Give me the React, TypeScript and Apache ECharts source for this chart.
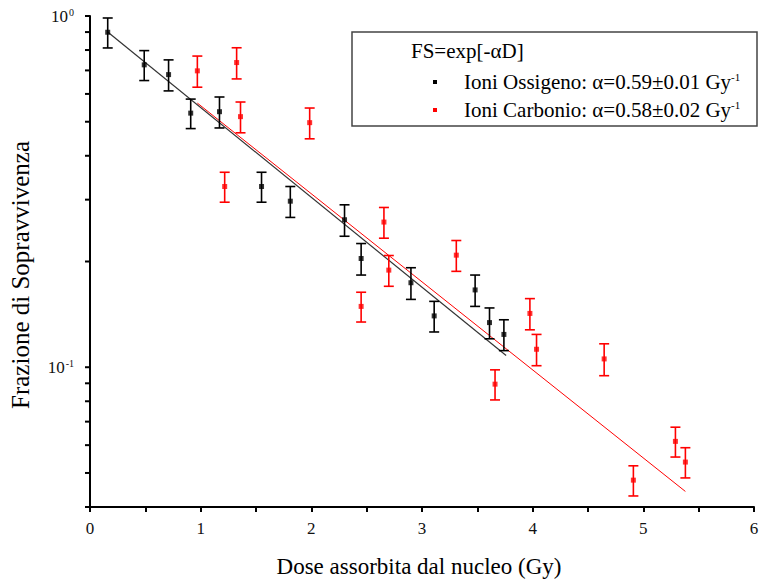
import React, { useEffect, useRef } from "react";
import * as echarts from "echarts";

const FONT = '"Liberation Serif", "Times New Roman", serif';

// Ioni Ossigeno (black)
const oxygenDose = [0.16, 0.49, 0.71, 0.91, 1.17, 1.55, 1.81, 2.3, 2.45, 2.9, 3.11, 3.48, 3.61, 3.74];
const oxygenSF = [0.899, 0.726, 0.681, 0.529, 0.534, 0.327, 0.297, 0.263, 0.204, 0.174, 0.14, 0.166, 0.134, 0.124];
const oxygenErr = [0.088, 0.071, 0.069, 0.051, 0.054, 0.032, 0.03, 0.027, 0.021, 0.018, 0.014, 0.017, 0.0135, 0.0125];

// Ioni Carbonio (red)
const carbonDose = [0.97, 1.217, 1.325, 1.36, 1.985, 2.45, 2.656, 2.7, 3.31, 3.66, 3.975, 4.035, 4.646, 4.91, 5.29, 5.38];
const carbonSF = [0.698, 0.327, 0.737, 0.517, 0.497, 0.149, 0.259, 0.189, 0.2085, 0.0895, 0.1423, 0.1125, 0.1056, 0.0477, 0.0615, 0.0537];
const carbonErr = [0.071, 0.032, 0.075, 0.052, 0.05, 0.0145, 0.026, 0.019, 0.021, 0.0088, 0.0145, 0.0115, 0.011, 0.0047, 0.006, 0.0053];

// Fit lines FS = exp(-αD), endpoints
const oxygenFitDose = [0.16, 3.76];
const oxygenFitSF = [0.9, 0.108];
const carbonFitDose = [0.97, 5.38];
const carbonFitSF = [0.565, 0.0443];

// Axes
const X_MIN = 0;
const X_MAX = 6;
const Y_MIN = 0.04;
const Y_MAX = 1;
const yTickValues = [0.04, 0.05, 0.06, 0.07, 0.08, 0.09, 0.1, 0.2, 0.3, 0.4, 0.5, 0.6, 0.7, 0.8, 0.9, 1];

const BLACK = "#000000";
const RED = "#ff0000";

function errorSeries(name: string, xs: number[], ys: number[], es: number[], color: string) {
  return {
    type: "custom",
    name: name + " err",
    clip: false,
    z: 3,
    encode: { x: 0, y: 1 },
    data: xs.map((x, i) => [x, ys[i], es[i]]),
    renderItem: (params: any, api: any) => {
      const x = api.value(0);
      const y = api.value(1);
      const e = api.value(2);
      const top = api.coord([x, y + e]);
      const bot = api.coord([x, y - e]);
      const hw = 5;
      const st = { stroke: color, lineWidth: 1.6 };
      return {
        type: "group",
        children: [
          { type: "line", shape: { x1: top[0], y1: top[1], x2: bot[0], y2: bot[1] }, style: st },
          { type: "line", shape: { x1: top[0] - hw, y1: top[1], x2: top[0] + hw, y2: top[1] }, style: st },
          { type: "line", shape: { x1: bot[0] - hw, y1: bot[1], x2: bot[0] + hw, y2: bot[1] }, style: st },
        ],
      };
    },
  };
}

export default function App() {
  const ref = useRef<HTMLDivElement>(null);
  useEffect(() => {
    if (!ref.current) return;
    const chart = echarts.init(ref.current, null, { renderer: "svg" });
    const option: any = {
      animation: false,
      backgroundColor: "#ffffff",
      grid: { left: 90, right: 12, top: 16, bottom: 78, containLabel: false },
      xAxis: {
        type: "value",
        min: X_MIN,
        max: X_MAX,
        interval: 1,
        name: "Dose assorbita dal nucleo (Gy)",
        nameLocation: "middle",
        nameGap: 48,
        nameTextStyle: { fontFamily: FONT, fontSize: 23, color: "#000", padding: [0, 6, 0, 0] },
        axisLine: { show: true, onZero: false, lineStyle: { color: "#000", width: 2 } },
        axisTick: { show: true, length: 5, lineStyle: { color: "#000", width: 2 } },
        minorTick: { show: true, splitNumber: 2, length: 5, lineStyle: { color: "#000", width: 2 } },
        splitLine: { show: false },
        minorSplitLine: { show: false },
        axisLabel: { fontFamily: FONT, fontSize: 17, color: "#111", margin: 13 },
      },
      yAxis: {
        type: "log",
        logBase: 10,
        min: Y_MIN,
        max: Y_MAX,
        name: "Frazione di Sopravvivenza",
        nameLocation: "middle",
        nameGap: 57,
        nameRotate: 90,
        nameTextStyle: { fontFamily: FONT, fontSize: 25, color: "#000", padding: [0, 27, 0, 0] },
        axisLine: { show: true, onZero: false, lineStyle: { color: "#000", width: 2 } },
        axisTick: { show: false },
        splitLine: { show: false },
        axisLabel: {
          margin: 16,
          showMinLabel: false,
          formatter: (v: number) => {
            const l = Math.log10(v);
            const e = Math.round(l);
            if (Math.abs(l - e) > 1e-6) return "";
            return `{b|10}{s|${e}}`;
          },
          rich: {
            b: { fontFamily: FONT, fontSize: 17, color: "#111" },
            s: { fontFamily: FONT, fontSize: 10, color: "#111", verticalAlign: "top", padding: [0, 0, 0, 1] },
          },
        },
      },
      series: [
        {
          type: "custom",
          name: "yticks",
          clip: false,
          silent: true,
          z: 5,
          encode: { x: 0, y: 1 },
          data: yTickValues.map((v) => [X_MIN, v]),
          renderItem: (params: any, api: any) => {
            const p = api.coord([api.value(0), api.value(1)]);
            return {
              type: "line",
              shape: { x1: p[0] - 5, y1: p[1], x2: p[0], y2: p[1] },
              style: { stroke: "#000", lineWidth: 2 },
            };
          },
        },
        {
          type: "line",
          name: "Fit Ossigeno",
          data: oxygenFitDose.map((d, i) => [d, oxygenFitSF[i]]),
          showSymbol: false,
          symbol: "none",
          lineStyle: { color: "#333", width: 1.2 },
          z: 2,
        },
        {
          type: "line",
          name: "Fit Carbonio",
          data: carbonFitDose.map((d, i) => [d, carbonFitSF[i]]),
          showSymbol: false,
          symbol: "none",
          lineStyle: { color: RED, width: 1 },
          z: 2,
        },
        errorSeries("Ioni Ossigeno", oxygenDose, oxygenSF, oxygenErr, BLACK),
        errorSeries("Ioni Carbonio", carbonDose, carbonSF, carbonErr, RED),
        {
          type: "scatter",
          name: "Ioni Ossigeno",
          symbol: "rect",
          symbolSize: 5,
          itemStyle: { color: BLACK },
          data: oxygenDose.map((d, i) => [d, oxygenSF[i]]),
          z: 4,
        },
        {
          type: "scatter",
          name: "Ioni Carbonio",
          symbol: "rect",
          symbolSize: 5,
          itemStyle: { color: RED },
          data: carbonDose.map((d, i) => [d, carbonSF[i]]),
          z: 4,
        },
      ],
      graphic: [
        {
          type: "rect",
          z: 100,
          shape: { x: 352, y: 32, width: 405, height: 94 },
          style: { fill: "#fff", stroke: "#444", lineWidth: 1.5 },
        },
        {
          type: "text",
          z: 101,
          x: 411,
          y: 51,
          style: { text: "FS=exp[-αD]", fontFamily: FONT, fontSize: 21, fill: "#000", verticalAlign: "middle" },
        },
        {
          type: "rect",
          z: 101,
          shape: { x: 433, y: 80, width: 4, height: 4 },
          style: { fill: BLACK },
        },
        {
          type: "text",
          z: 101,
          x: 464,
          y: 82,
          style: {
            text: "{t|Ioni Ossigeno: α=0.59±0.01 Gy}{s|-1}",
            verticalAlign: "middle",
            rich: {
              t: { fontFamily: FONT, fontSize: 21, fill: "#000", color: "#000" },
              s: { fontFamily: FONT, fontSize: 11, fill: "#000", color: "#000", verticalAlign: "top" },
            },
          },
        },
        {
          type: "rect",
          z: 101,
          shape: { x: 433, y: 108, width: 4, height: 4 },
          style: { fill: RED },
        },
        {
          type: "text",
          z: 101,
          x: 464,
          y: 110,
          style: {
            text: "{t|Ioni Carbonio: α=0.58±0.02 Gy}{s|-1}",
            verticalAlign: "middle",
            rich: {
              t: { fontFamily: FONT, fontSize: 21, fill: "#000", color: "#000" },
              s: { fontFamily: FONT, fontSize: 11, fill: "#000", color: "#000", verticalAlign: "top" },
            },
          },
        },
      ],
    };
    chart.setOption(option);
    return () => chart.dispose();
  }, []);
  return (
    <div
      ref={ref}
      style={{ position: "fixed", left: 0, top: 0, width: 766, height: 585, background: "#fff" }}
    />
  );
}
